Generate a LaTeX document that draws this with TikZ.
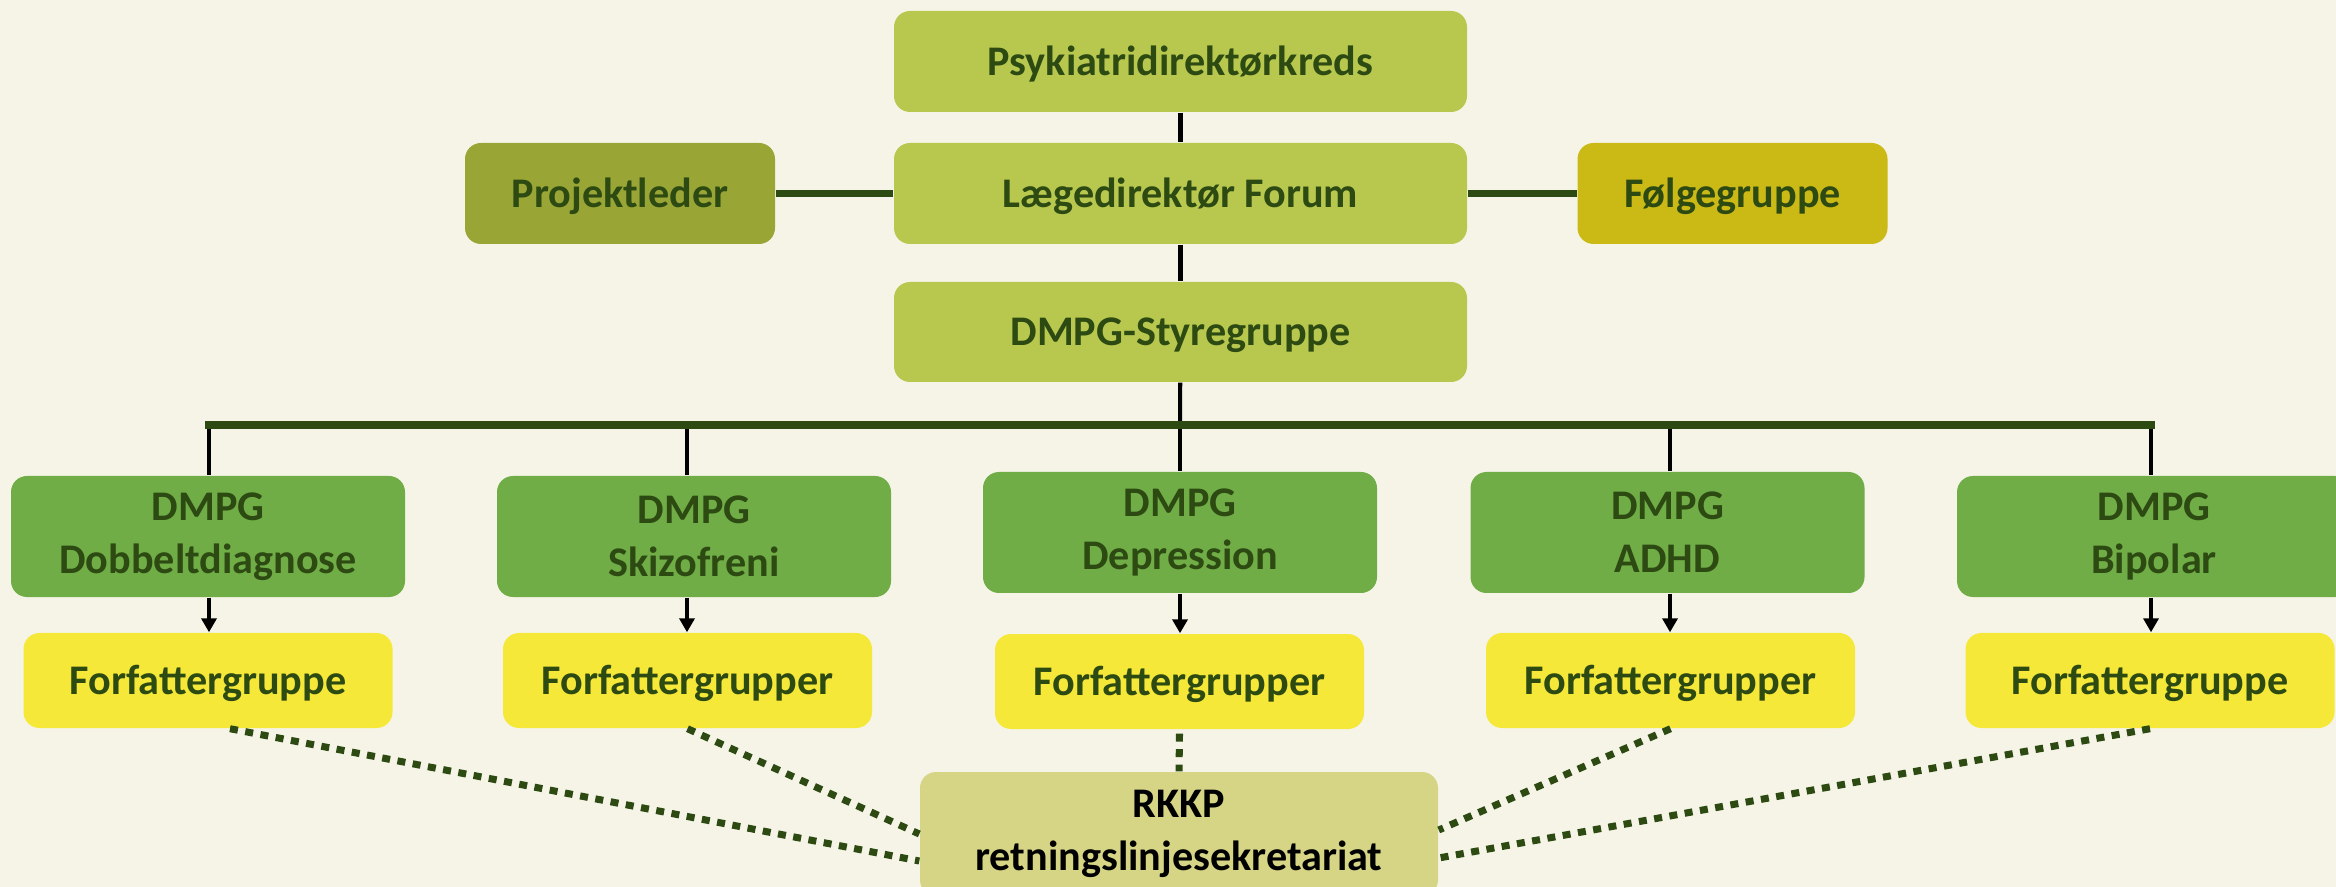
\documentclass[tikz,border=0pt]{standalone}
\usepackage{fontspec}
\setmainfont{Carlito}
\usepackage{xcolor}
\usepackage{tikz}
\usetikzlibrary{arrows.meta, calc, positioning}
\definecolor{paper}{HTML}{F6F4E7}
\definecolor{lime}{HTML}{B8C84F}
\definecolor{olive}{HTML}{99A535}
\definecolor{mustard}{HTML}{CBB916}
\definecolor{leaf}{HTML}{70AD47}
\definecolor{lemon}{HTML}{F5E838}
\definecolor{khaki}{HTML}{D6D585}
\definecolor{forest}{HTML}{2C4A12}

\begin{document}
\begin{tikzpicture}[
            box/.style = {rectangle, rounded corners=0.16cm, inner sep=0pt, align=center,
                font=\fontsize{12}{15}\selectfont\bfseries, text=forest},
            oneline/.style = {text height=7.7pt, text depth=0pt},
            topbox/.style = {box, oneline, fill=lime, minimum width=5.73cm, minimum height=1.01cm},
            sidebox/.style = {box, oneline, minimum width=3.1cm, minimum height=1.01cm},
            dmpg/.style = {box, fill=leaf, minimum width=3.94cm, minimum height=1.21cm},
            forf/.style = {box, oneline, fill=lemon, minimum width=3.69cm, minimum height=0.95cm},
            tie/.style = {draw=black, line width=1.15pt},
            bar/.style = {draw=forest, line width=2pt},
            link/.style = {draw=forest, line width=2pt, dash pattern=on 0.08cm off 0.075cm}]
            \fill[paper] (0,0) rectangle (23.36,-8.87);
            \useasboundingbox (0,0) rectangle (23.36,-8.87);

            \node (psyk) [topbox] at (11.805,-0.615) {Psykiatridirektørkreds};
            \node (laege) [topbox] at (11.805,-1.935) {Lægedirektør Forum};
            \node (styre) [topbox, minimum height=1cm] at (11.805,-3.32) {DMPG-Styregruppe};
            \node (proj) [sidebox, fill=olive] at (6.2,-1.935) {Projektleder};
            \node (folg) [sidebox, fill=mustard] at (17.325,-1.935) {Følgegruppe};

            \node (dob) [dmpg] at (2.08,-5.365) {DMPG\\Dobbeltdiagnose};
            \node (ski) [dmpg] at (6.94,-5.365) {DMPG\\Skizofreni};
            \node (dep) [dmpg] at (11.8,-5.325) {DMPG\\Depression};
            \node (adhd) [dmpg] at (16.675,-5.325) {DMPG\\ADHD};
            \node (bip) [dmpg] at (21.54,-5.365) {DMPG\\Bipolar};

            \node (fg1) [forf] at (2.08,-6.805) {Forfattergruppe};
            \node (fg2) [forf] at (6.875,-6.805) {Forfattergrupper};
            \node (fg3) [forf] at (11.795,-6.815) {Forfattergrupper};
            \node (fg4) [forf] at (16.705,-6.805) {Forfattergrupper};
            \node (fg5) [forf] at (21.5,-6.805) {Forfattergruppe};

            \node (rkkp) [box, fill=khaki, text=black, minimum width=5.18cm, minimum height=1.24cm]
                at (11.79,-8.34) {RKKP\\retningslinjesekretariat};

            \coordinate (b1) at (2.09,-4.25);
            \coordinate (b2) at (6.87,-4.25);
            \coordinate (b3) at (11.8,-4.25);
            \coordinate (b4) at (16.7,-4.25);
            \coordinate (b5) at (21.51,-4.25);

            \draw[tie] (psyk) -- (laege);
            \draw[tie] (laege) -- (styre);
            \draw[tie] (styre) -- (b3);
            \draw[bar] (proj) -- (laege);
            \draw[bar] (laege) -- (folg);

            \foreach \b/\g/\f in {b1/dob/fg1, b2/ski/fg2, b3/dep/fg3, b4/adhd/fg4, b5/bip/fg5} {
                \draw[tie] (\b) -- (\b |- \g.north);
                \draw[tie, -{Triangle[length=0.14cm, width=0.15cm]}]
                    (\b |- \g.south) -- (\b |- \f.north);
            }
            \draw[bar, line cap=rect] (b1) -- (b5);

            \draw[link] ($(fg1.south)+(0.22,0)$) -- ($(rkkp.west)+(0,-0.27)$);
            \draw[link] (fg2.south) -- (rkkp.west);
            \draw[link] ([yshift=-0.04cm]fg3.south) -- (rkkp.north);
            \draw[link] (fg4.south) -- ($(rkkp.east)+(0,0.04)$);
            \draw[link] (fg5.south) -- ($(rkkp.east)+(0,-0.24)$);
            \end{tikzpicture}
\end{document}
